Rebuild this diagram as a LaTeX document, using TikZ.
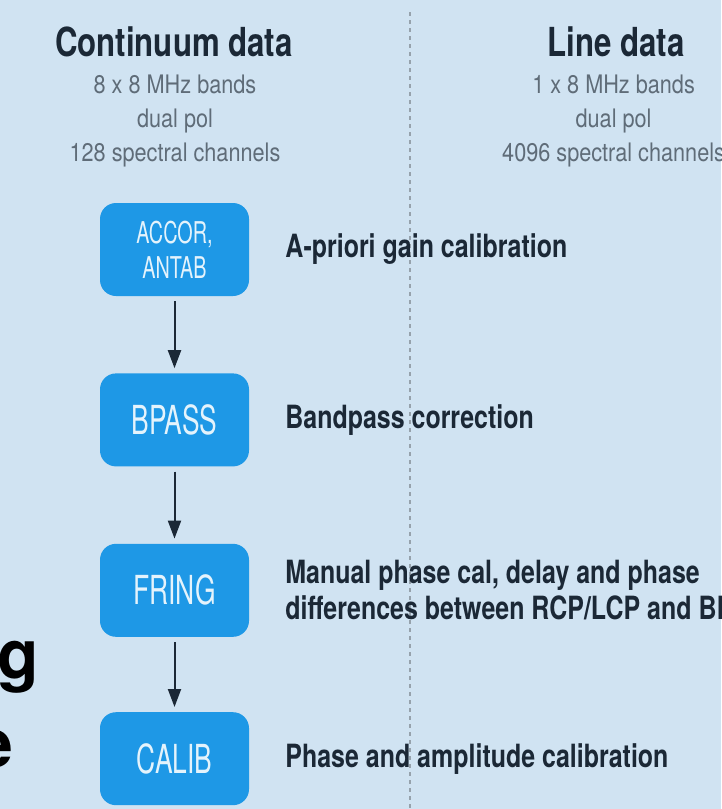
\documentclass[tikz,border=0pt]{standalone}
\usepackage{fontspec}
\setmainfont[FakeStretch=0.85]{TeX Gyre Heros}
\newfontfamily\headfont[FakeStretch=0.78]{TeX Gyre Heros}
\newfontfamily\boxfont[FakeStretch=0.66]{TeX Gyre Heros}
\newfontfamily\bigfont{TeX Gyre Heros}
\usetikzlibrary{positioning,arrows.meta}
\definecolor{bgblue}{RGB}{208,227,242}
\definecolor{stepblue}{RGB}{30,152,230}
\definecolor{inkdark}{RGB}{27,40,54}
\definecolor{inkgray}{RGB}{95,108,120}
\definecolor{dashgray}{RGB}{150,162,172}
\tikzset{
    BX1/.style ={rectangle, rounded corners=16pt, minimum width=149pt, minimum height=93pt, inner sep=0pt,
                 fill=stepblue, text=white!88!stepblue, align=center, font=\boxfont\fontsize{40}{44}\selectfont},
    BX2/.style ={BX1, font=\boxfont\fontsize{30}{35}\selectfont},
    HD/.style ={inner sep=0pt, text=inkdark, font=\headfont\bfseries\fontsize{40}{42}\selectfont},
    SB/.style ={inner sep=0pt, text=inkgray, align=center, font=\fontsize{25.5}{34}\selectfont},
    LB/.style ={inner sep=0pt, text=inkdark, align=left, font=\headfont\bfseries\fontsize{32}{36}\selectfont},
    BG/.style ={inner sep=0pt, text=black, font=\bigfont\bfseries\fontsize{68}{68}\selectfont},
    AR/.style ={-{Triangle[length=18pt,width=13pt]}, line width=2pt, draw=inkdark, shorten <=5pt, shorten >=5pt},
    DL/.style ={dashgray, line width=1.5pt, dash pattern=on 4pt off 4pt}}

\begin{document}
\begin{tikzpicture}[x=1pt,y=-1pt,node distance=77pt]
        \useasboundingbox (0,0) rectangle (721,809);
        \clip (0,0) rectangle (721,809);
        \fill[bgblue] (0,0) rectangle (721,809);
        % separator
        \coordinate (dtop) at (410,12);
        \coordinate (dbot) at (410,809);
        \draw[DL] (dtop) -- (dbot);
        % column heads
        \node[HD] (cont) at(174,42){Continuum data};
        \node[SB] (contsub) at(175,121){8 x 8 MHz bands\\dual pol\\128 spectral channels};
        \node[HD] (line) at(616,42){Line data};
        \node[SB, anchor=west] (linesub) at(502,121){\phantom{4096 spectral channels}};
        \node[SB] at(linesub.center){1 x 8 MHz bands\\dual pol\\4096 spectral channels};
        % steps
        \node[BX2] (accor) at(174.5,249.5){ACCOR,\\ANTAB};
        \node[BX1] (bpass) [below=of accor]{BPASS};
        \node[BX1] (fring) [below=of bpass]{FRING};
        \node[BX1] (calib) [below=75pt of fring]{CALIB};
        \draw[AR] (accor) -- (bpass);
        \draw[AR] (bpass) -- (fring);
        \draw[AR] (fring) -- (calib);
        \node[LB] (accorlb) [right=36pt of accor]{A-priori gain calibration};
        \node[LB] (bpasslb) [right=36pt of bpass]{Bandpass correction};
        \node[LB] (fringlb) [right=36pt of fring]{Manual phase cal, delay and phase\\differences between RCP/LCP and BBCs};
        \node[LB] (caliblb) [right=36pt of calib]{Phase and amplitude calibration};
        % cut-off letters
        \node[BG, anchor=base east] (bigg) at(39,678){g};
        \node[BG, anchor=base east] (bige) at(14,767){e};
    \end{tikzpicture}
\end{document}
